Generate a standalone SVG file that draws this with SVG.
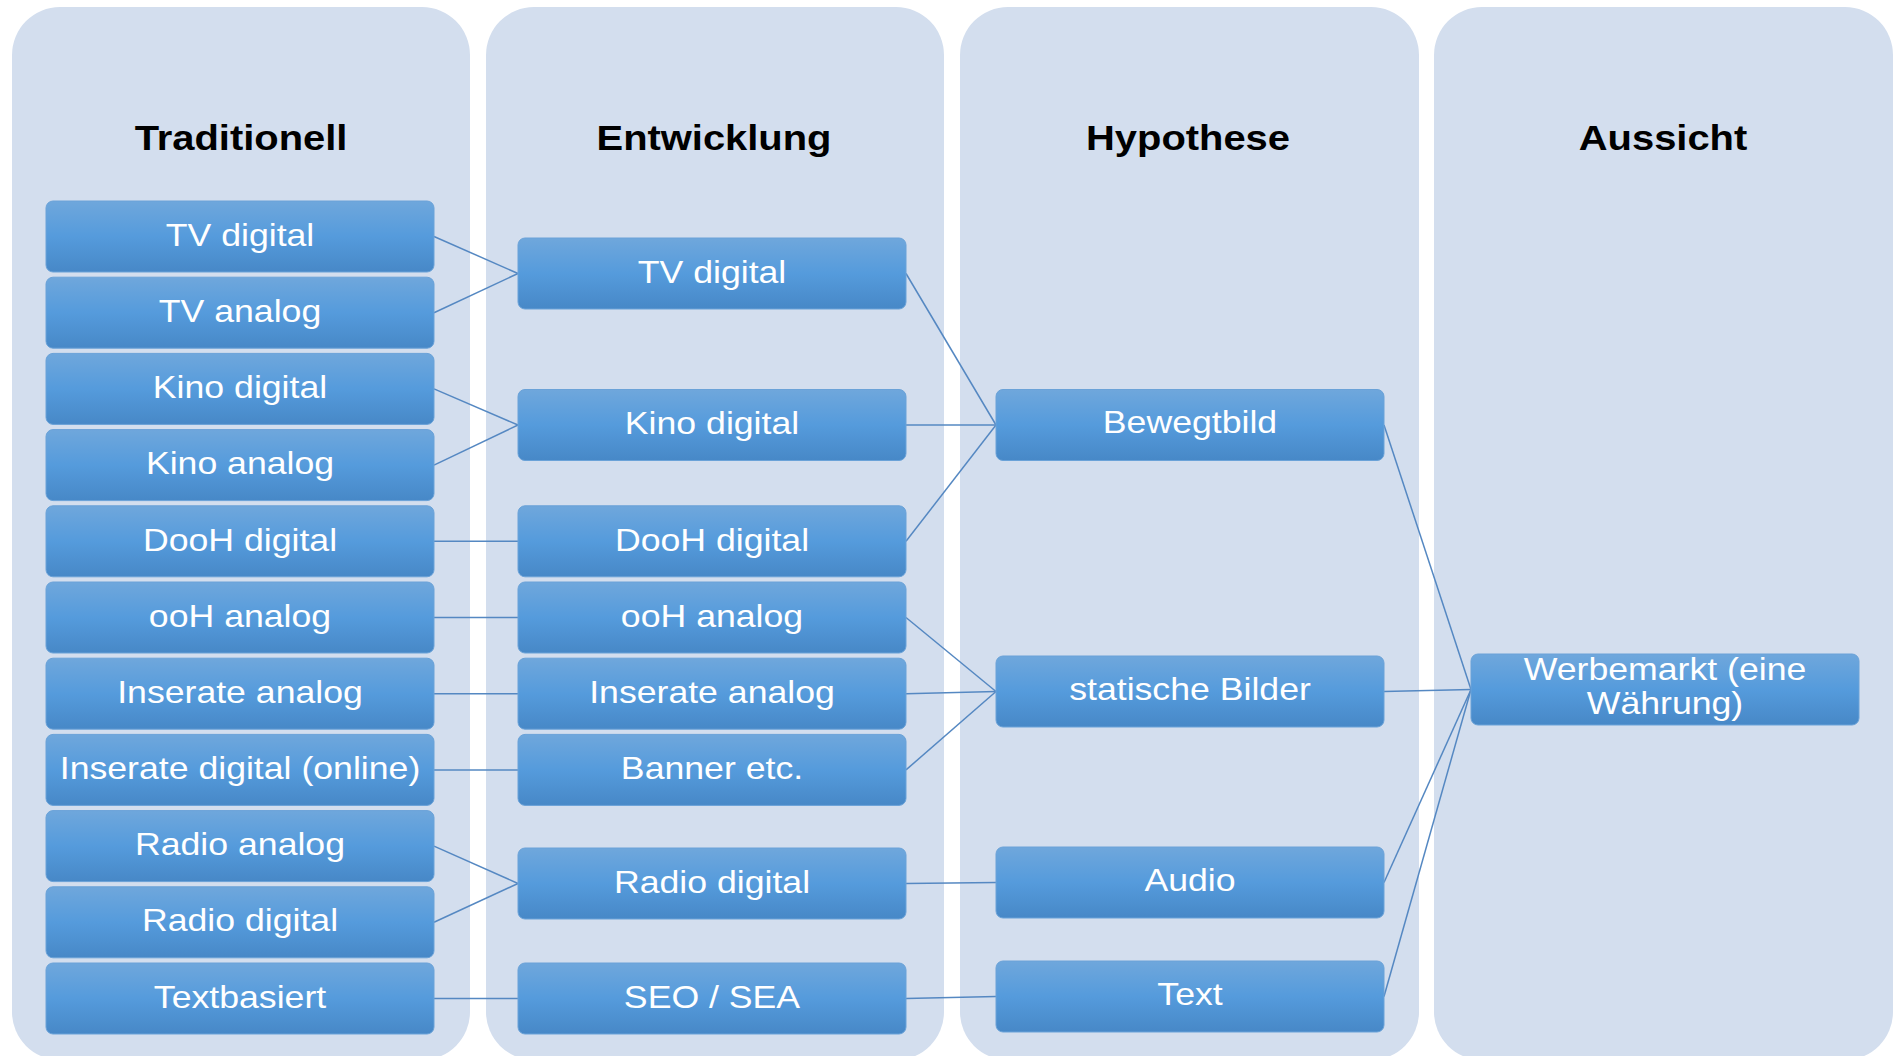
<svg xmlns="http://www.w3.org/2000/svg" width="1899" height="1056" viewBox="0 0 1899 1056">
<defs>
<linearGradient id="g" x1="0" y1="0" x2="0" y2="1">
<stop offset="0" stop-color="#6fa7dc"/>
<stop offset="0.5" stop-color="#559bdc"/>
<stop offset="1" stop-color="#4788c7"/>
</linearGradient>
</defs>
<style>
.col{fill:#d3deee}
.box{fill:url(#g);stroke:#6aa2d8;stroke-width:1}
.hd{font-family:"Liberation Sans",Arial,sans-serif;font-weight:bold;font-size:35px;fill:#000;text-anchor:middle}
.t{font-family:"Liberation Sans",Arial,sans-serif;font-size:31px;fill:#fff;text-anchor:middle}
.c line{stroke:#5588c2;stroke-width:1.5}
</style>
<rect width="1899" height="1056" fill="#fff"/>
<g id="columns">
<rect class="col" x="12" y="7" width="458" height="1053" rx="48"/>
<rect class="col" x="486" y="7" width="458" height="1053" rx="48"/>
<rect class="col" x="960" y="7" width="459" height="1053" rx="48"/>
<rect class="col" x="1434" y="7" width="459" height="1053" rx="48"/>
</g>
<g id="headers">
<text class="hd" transform="translate(241,150) scale(1.14,1)">Traditionell</text>
<text class="hd" transform="translate(714,150) scale(1.14,1)">Entwicklung</text>
<text class="hd" transform="translate(1188,150) scale(1.14,1)">Hypothese</text>
<text class="hd" transform="translate(1663,150) scale(1.14,1)">Aussicht</text>
</g>
<g class="c" id="connectors">
<line x1="434" y1="236.5" x2="518" y2="273.5"/>
<line x1="434" y1="312.7" x2="518" y2="273.5"/>
<line x1="434" y1="388.9" x2="518" y2="425"/>
<line x1="434" y1="465.1" x2="518" y2="425"/>
<line x1="434" y1="541.3" x2="518" y2="541.3"/>
<line x1="434" y1="617.5" x2="518" y2="617.5"/>
<line x1="434" y1="693.7" x2="518" y2="693.7"/>
<line x1="434" y1="769.9" x2="518" y2="769.9"/>
<line x1="434" y1="846.1" x2="518" y2="883.5"/>
<line x1="434" y1="922.3" x2="518" y2="883.5"/>
<line x1="434" y1="998.5" x2="518" y2="998.5"/>
<line x1="906" y1="273.5" x2="996" y2="425"/>
<line x1="906" y1="425" x2="996" y2="425"/>
<line x1="906" y1="541.3" x2="996" y2="425"/>
<line x1="906" y1="617.5" x2="996" y2="691.5"/>
<line x1="906" y1="693.7" x2="996" y2="691.5"/>
<line x1="906" y1="769.9" x2="996" y2="691.5"/>
<line x1="906" y1="883.5" x2="996" y2="882.5"/>
<line x1="906" y1="998.5" x2="996" y2="996.5"/>
<line x1="1384" y1="425" x2="1471" y2="689.5"/>
<line x1="1384" y1="691.5" x2="1471" y2="689.5"/>
<line x1="1384" y1="882.5" x2="1471" y2="689.5"/>
<line x1="1384" y1="996.5" x2="1471" y2="689.5"/>
</g>
<g id="t1"><rect class="box" x="46" y="201" width="388" height="71" rx="7"/><text class="t" transform="translate(240,246) scale(1.15,1)">TV digital</text></g>
<g id="t2"><rect class="box" x="46" y="277.2" width="388" height="71" rx="7"/><text class="t" transform="translate(240,322) scale(1.15,1)">TV analog</text></g>
<g id="t3"><rect class="box" x="46" y="353.4" width="388" height="71" rx="7"/><text class="t" transform="translate(240,398) scale(1.15,1)">Kino digital</text></g>
<g id="t4"><rect class="box" x="46" y="429.6" width="388" height="71" rx="7"/><text class="t" transform="translate(240,474) scale(1.15,1)">Kino analog</text></g>
<g id="t5"><rect class="box" x="46" y="505.8" width="388" height="71" rx="7"/><text class="t" transform="translate(240,551) scale(1.15,1)">DooH digital</text></g>
<g id="t6"><rect class="box" x="46" y="582" width="388" height="71" rx="7"/><text class="t" transform="translate(240,627) scale(1.15,1)">ooH analog</text></g>
<g id="t7"><rect class="box" x="46" y="658.2" width="388" height="71" rx="7"/><text class="t" transform="translate(240,703) scale(1.15,1)">Inserate analog</text></g>
<g id="t8"><rect class="box" x="46" y="734.4" width="388" height="71" rx="7"/><text class="t" transform="translate(240,779) scale(1.15,1)">Inserate digital (online)</text></g>
<g id="t9"><rect class="box" x="46" y="810.6" width="388" height="71" rx="7"/><text class="t" transform="translate(240,855) scale(1.15,1)">Radio analog</text></g>
<g id="t10"><rect class="box" x="46" y="886.8" width="388" height="71" rx="7"/><text class="t" transform="translate(240,931) scale(1.15,1)">Radio digital</text></g>
<g id="t11"><rect class="box" x="46" y="963" width="388" height="71" rx="7"/><text class="t" transform="translate(240,1008) scale(1.15,1)">Textbasiert</text></g>
<g id="e1"><rect class="box" x="518" y="238" width="388" height="71" rx="7"/><text class="t" transform="translate(712,283) scale(1.15,1)">TV digital</text></g>
<g id="e2"><rect class="box" x="518" y="389.5" width="388" height="71" rx="7"/><text class="t" transform="translate(712,434) scale(1.15,1)">Kino digital</text></g>
<g id="e3"><rect class="box" x="518" y="505.8" width="388" height="71" rx="7"/><text class="t" transform="translate(712,551) scale(1.15,1)">DooH digital</text></g>
<g id="e4"><rect class="box" x="518" y="582" width="388" height="71" rx="7"/><text class="t" transform="translate(712,627) scale(1.15,1)">ooH analog</text></g>
<g id="e5"><rect class="box" x="518" y="658.2" width="388" height="71" rx="7"/><text class="t" transform="translate(712,703) scale(1.15,1)">Inserate analog</text></g>
<g id="e6"><rect class="box" x="518" y="734.4" width="388" height="71" rx="7"/><text class="t" transform="translate(712,779) scale(1.15,1)">Banner etc.</text></g>
<g id="e7"><rect class="box" x="518" y="848" width="388" height="71" rx="7"/><text class="t" transform="translate(712,893) scale(1.15,1)">Radio digital</text></g>
<g id="e8"><rect class="box" x="518" y="963" width="388" height="71" rx="7"/><text class="t" transform="translate(712,1008) scale(1.15,1)">SEO / SEA</text></g>
<g id="h1"><rect class="box" x="996" y="389.5" width="388" height="71" rx="7"/><text class="t" transform="translate(1190,433) scale(1.15,1)">Bewegtbild</text></g>
<g id="h2"><rect class="box" x="996" y="656" width="388" height="71" rx="7"/><text class="t" transform="translate(1190,700) scale(1.15,1)">statische Bilder</text></g>
<g id="h3"><rect class="box" x="996" y="847" width="388" height="71" rx="7"/><text class="t" transform="translate(1190,891) scale(1.15,1)">Audio</text></g>
<g id="h4"><rect class="box" x="996" y="961" width="388" height="71" rx="7"/><text class="t" transform="translate(1190,1005) scale(1.15,1)">Text</text></g>
<g id="a1"><rect class="box" x="1471" y="654" width="388" height="71" rx="7"/><text class="t" transform="translate(1665,680) scale(1.15,1)">Werbemarkt (eine</text><text class="t" transform="translate(1665,714) scale(1.15,1)">Währung)</text></g>
</svg>
